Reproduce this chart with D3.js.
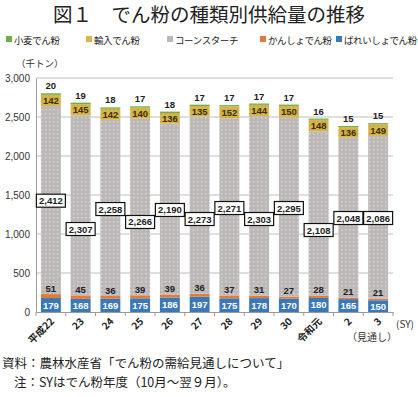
<!DOCTYPE html>
<html>
<head>
<meta charset="utf-8">
<script src="https://cdn.jsdelivr.net/npm/d3@7"></script>
<style>
  body { margin: 0; background: #fff; }
  svg { display: block; font-family: "Noto Sans CJK JP", sans-serif; }
  .num { font-family: "Liberation Sans", Arial, sans-serif; font-weight: bold; font-size: 9.5px; }
  .legend text { letter-spacing: -0.4px; }
</style>
</head>
<body>
<script>
// 年度
var years = ["平成22", "23", "24", "25", "26", "27", "28", "29", "30", "令和元", "2", "3"];
// 千トン
var potato = [179, 168, 169, 175, 186, 197, 175, 178, 170, 180, 165, 150];     // ばれいしょでん粉
var sweetPotato = [51, 45, 36, 39, 39, 36, 37, 31, 27, 28, 21, 21];            // かんしょでん粉
var cornStarch = [2412, 2307, 2258, 2266, 2190, 2273, 2271, 2303, 2295, 2108, 2048, 2086];
var imported = [142, 145, 142, 140, 136, 135, 152, 144, 150, 148, 136, 149];   // 輸入でん粉
var wheat = [20, 19, 18, 17, 18, 17, 17, 17, 17, 16, 15, 15];                  // 小麦でん粉
var yTicks = [0, 500, 1000, 1500, 2000, 2500, 3000];

// where the corn starch boxes sit (value units, hand placed like the original)
var csLabelAt = [1427, 1064, 1320, 1154, 1308, 1192, 1333, 1192, 1333, 1051, 1205, 1205];

var svgWidth = 418, svgHeight = 397;
var svg = d3.select("body").append("svg")
    .attr("width", svgWidth)
    .attr("height", svgHeight);

// patterns
var defs = svg.append("defs");
var pat = defs.append("pattern")
    .attr("id", "dots").attr("width", 4).attr("height", 4)
    .attr("patternUnits", "userSpaceOnUse");
pat.append("rect").attr("width", 4).attr("height", 4).attr("fill", "#bcb8b8");
pat.append("rect").attr("x", 1).attr("y", 1).attr("width", 1.5).attr("height", 1.5).attr("fill", "#d6d3d3");
var pat2 = defs.append("pattern")
    .attr("id", "ydots").attr("width", 4).attr("height", 4)
    .attr("patternUnits", "userSpaceOnUse");
pat2.append("rect").attr("width", 4).attr("height", 4).attr("fill", "#d8b64c");
pat2.append("rect").attr("x", 1).attr("y", 1).attr("width", 1.5).attr("height", 1.5).attr("fill", "#c6a43e");

var series = [
    {key: "potato", name: "ばれいしょでん粉", values: potato, fill: "#3a78b8"},
    {key: "sweet", name: "かんしょでん粉", values: sweetPotato, fill: "#e07b3c"},
    {key: "corn", name: "コーンスターチ", values: cornStarch, fill: "url(#dots)"},
    {key: "imp", name: "輸入でん粉", values: imported, fill: "url(#ydots)"},
    {key: "wheat", name: "小麦でん粉", values: wheat, fill: "#6daf45"}
];

var rows = years.map(function (y, i) {
    var r = {year: y};
    series.forEach(function (s) { r[s.key] = s.values[i]; });
    return r;
});

var stack = d3.stack().keys(series.map(s => s.key));
var stacked = stack(rows);

var x = d3.scaleBand().domain(years).range([36, 393]).paddingInner(0.33).paddingOuter(0.165);
var y = d3.scaleLinear().domain([0, 3000]).range([312, 78]);

// title
svg.append("text")
    .attr("x", 209).attr("y", 22)
    .attr("text-anchor", "middle")
    .attr("font-size", 19.5)
    .attr("fill", "#222")
    .text("図１　でん粉の種類別供給量の推移");

// legend
var legendItems = [
    {name: "小麦でん粉", color: "#6daf45", x: 6},
    {name: "輸入でん粉", color: "#d8b64c", x: 86},
    {name: "コーンスターチ", color: "#bcb8b8", x: 167},
    {name: "かんしょでん粉", color: "#e07b3c", x: 260},
    {name: "ばれいしょでん粉", color: "#3a78b8", x: 336}
];
var lg = svg.append("g").attr("class", "legend").selectAll("g").data(legendItems).enter().append("g")
    .attr("transform", d => `translate(${d.x},40)`);
lg.append("rect").attr("x", 0).attr("y", -4).attr("width", 6).attr("height", 6).attr("fill", d => d.color);
lg.append("text").attr("x", 8).attr("y", 3.5).attr("font-size", 9.5).attr("fill", "#222").text(d => d.name);

// unit
svg.append("text")
    .attr("x", 16).attr("y", 67)
    .attr("font-size", 9.5).attr("fill", "#333")
    .text("（千トン）");

// gridlines
svg.append("g").selectAll("line").data(yTicks.slice(1)).enter().append("line")
    .attr("x1", 36).attr("x2", 393)
    .attr("y1", d => y(d)).attr("y2", d => y(d))
    .attr("stroke", "#bfbfbf").attr("stroke-width", 1);

// y axis
var leftAxis = d3.axisLeft(y).tickValues(yTicks).tickFormat(d3.format(",")).tickSize(0).tickPadding(6);
var yAxis = svg.append("g").attr("transform", "translate(36,0)").call(leftAxis);
yAxis.select(".domain").attr("stroke", "#9a9a9a");
yAxis.selectAll("text").attr("font-family", "Liberation Sans, Arial, sans-serif").attr("font-size", 10).attr("fill", "#333");

// bars
var layers = svg.append("g").selectAll("g").data(stacked).enter().append("g")
    .attr("fill", (d, i) => series[i].fill);
layers.selectAll("rect").data(d => d).enter().append("rect")
    .attr("x", d => x(d.data.year))
    .attr("width", x.bandwidth())
    .attr("y", d => y(d[1]))
    .attr("height", d => y(d[0]) - y(d[1]));

// x axis
var bottomAxis = d3.axisBottom(x).tickSize(0).tickFormat("");
var xAxis = svg.append("g").attr("transform", "translate(0,312)").call(bottomAxis);
xAxis.select(".domain").attr("stroke", "#9a9a9a");
var step = x.step();
svg.append("g").selectAll("line").data(d3.range(years.length + 1)).enter().append("line")
    .attr("x1", i => 36 + i * step).attr("x2", i => 36 + i * step)
    .attr("y1", 312).attr("y2", 316)
    .attr("stroke", "#9a9a9a");

// x labels
svg.append("g").selectAll("text").data(years).enter().append("text")
    .attr("transform", d => `translate(${x(d) + x.bandwidth() / 2 + 4},${322}) rotate(-45)`)
    .attr("text-anchor", "end")
    .attr("font-size", 10)
    .attr("font-weight", "bold")
    .attr("fill", "#222")
    .text(d => d);
svg.append("text").attr("x", 396).attr("y", 328).attr("font-size", 10).attr("fill", "#333").text("(SY)");
svg.append("text").attr("x", 347).attr("y", 341).attr("font-size", 10).attr("fill", "#333").text("（見通し）");

// labels: potato (white, inside)
var cx = d => x(d) + x.bandwidth() / 2;
svg.append("g").selectAll("text").data(rows).enter().append("text")
    .attr("class", "num")
    .attr("x", d => cx(d.year))
    .attr("y", d => y(d.potato / 2) + 3.5)
    .attr("text-anchor", "middle")
    .attr("fill", "#fff")
    .text(d => d.potato);

// labels: sweet potato (above)
svg.append("g").selectAll("text").data(rows).enter().append("text")
    .attr("class", "num")
    .attr("x", d => cx(d.year))
    .attr("y", d => y(d.potato + d.sweet) - 2.5)
    .attr("text-anchor", "middle")
    .attr("fill", "#222")
    .text(d => d.sweet);

// labels: corn starch boxes
var csg = svg.append("g").selectAll("g").data(rows).enter().append("g")
    .attr("transform", (d, i) => `translate(${cx(d.year)},${y(csLabelAt[i])})`);
csg.append("rect")
    .attr("x", -14.5).attr("y", -6.5).attr("width", 29).attr("height", 13)
    .attr("fill", "#fff").attr("stroke", "#111").attr("stroke-width", 1.2);
csg.append("text")
    .attr("class", "num")
    .attr("y", 3.5)
    .attr("text-anchor", "middle")
    .attr("fill", "#222")
    .text(d => d3.format(",")(d.corn));

// labels: imported (inside)
svg.append("g").selectAll("text").data(rows).enter().append("text")
    .attr("class", "num")
    .attr("x", d => cx(d.year))
    .attr("y", d => y(d.potato + d.sweet + d.corn + d.imp / 2) + 3.5)
    .attr("text-anchor", "middle")
    .attr("fill", "#3a2e10")
    .text(d => d.imp);

// labels: wheat (above)
svg.append("g").selectAll("text").data(rows).enter().append("text")
    .attr("class", "num")
    .attr("x", d => cx(d.year))
    .attr("y", d => y(d.potato + d.sweet + d.corn + d.imp + d.wheat) - 4)
    .attr("text-anchor", "middle")
    .attr("fill", "#222")
    .text(d => d.wheat);

// source / note
svg.append("text").attr("x", 2).attr("y", 368).attr("font-size", 12.5).attr("fill", "#222")
    .text("資料：農林水産省「でん粉の需給見通しについて」");
svg.append("text").attr("x", 14).attr("y", 387).attr("font-size", 12.5).attr("fill", "#222")
    .text("注：SYはでん粉年度（10月～翌９月）。");
</script>
</body>
</html>
